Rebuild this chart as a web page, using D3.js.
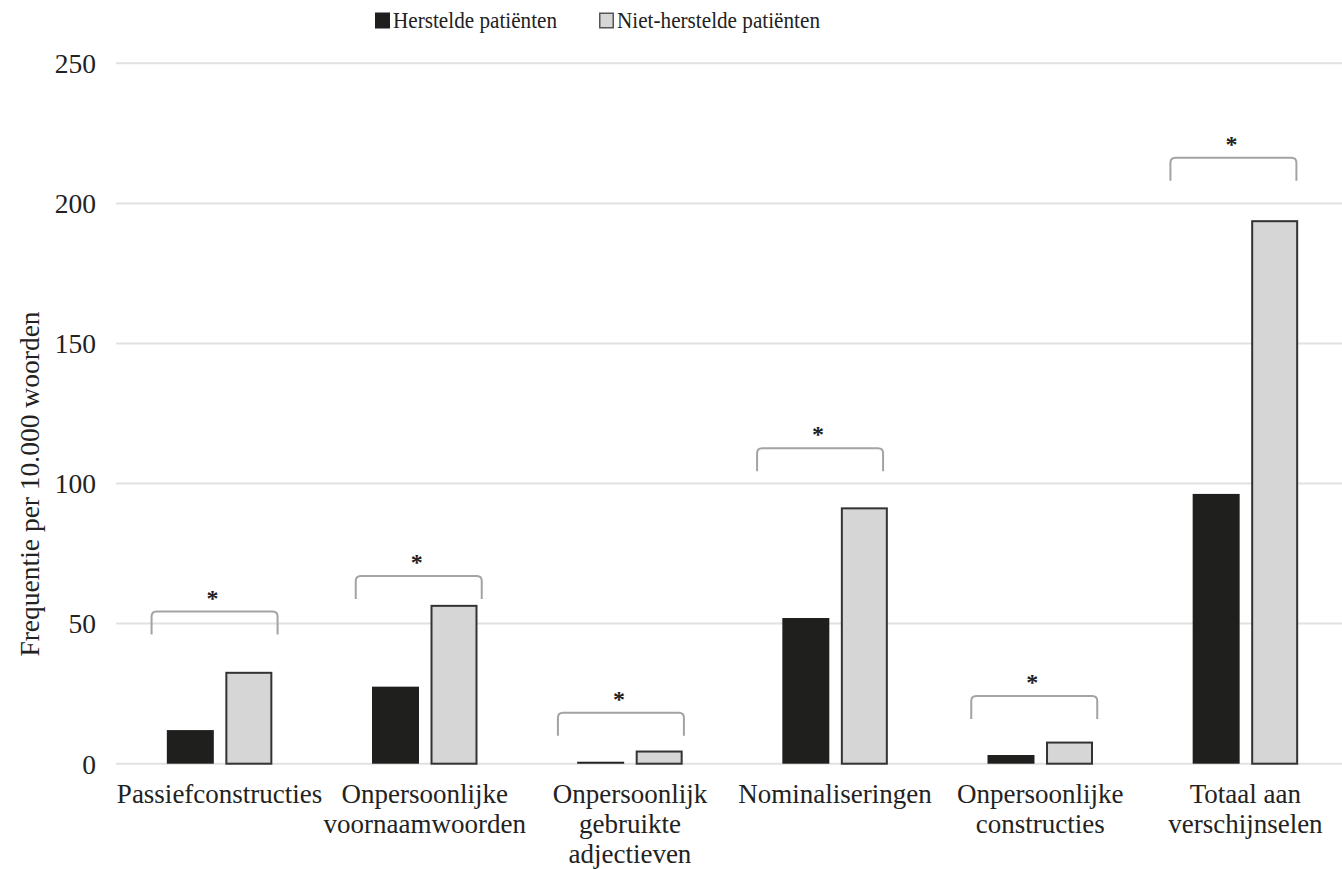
<!DOCTYPE html>
<html>
<head>
<meta charset="utf-8">
<script src="https://cdn.jsdelivr.net/npm/d3@7"></script>
<style>
  html, body { margin: 0; padding: 0; background: #fff; }
  svg { display: block; }
  svg text { font-family: "Liberation Serif", Tinos, "Times New Roman", Times, "DejaVu Serif", serif !important; fill: #222; }
</style>
</head>
<body>
<svg id="chart" width="1342" height="869"></svg>
<script>
// ---- data ----
const categories = [
  "Passiefconstructies",
  "Onpersoonlijke voornaamwoorden",
  "Onpersoonlijk gebruikte adjectieven",
  "Nominaliseringen",
  "Onpersoonlijke constructies",
  "Totaal aan verschijnselen"
];
const categoryLines = [
  ["Passiefconstructies"],
  ["Onpersoonlijke", "voornaamwoorden"],
  ["Onpersoonlijk", "gebruikte", "adjectieven"],
  ["Nominaliseringen"],
  ["Onpersoonlijke", "constructies"],
  ["Totaal aan", "verschijnselen"]
];
const seriesNames = ["Herstelde patiënten", "Niet-herstelde patiënten"];
const recovered    = [12, 27.5, 0.7, 52, 3.1, 96.3];
const nonRecovered = [32.8, 56.7, 4.7, 91.5, 7.9, 194];
const significant  = ["*", "*", "*", "*", "*", "*"];
const bracketLevel = [54.3, 67, 18.2, 112.6, 24.2, 216.3];   // bracket top, in data units
const yTicks = [0, 50, 100, 150, 200, 250];
const yTitle = "Frequentie per 10.000 woorden";

// annotation layout (pixel shift of each bracket from its group centre)
const bracketShift = [-5, -6, -9, -15, -6, -12];

// ---- layout ----
const FONT = '"Liberation Serif", Tinos, "Times New Roman", Times, "DejaVu Serif", serif';
const svg = d3.select("#chart");
const x = d3.scaleBand().domain(categories).range([117, 1348]).padding(0);
const xs = d3.scaleBand().domain(seriesNames)
  .range([x.bandwidth() / 2 - 52.75, x.bandwidth() / 2 + 52.75]).paddingInner(0.197).paddingOuter(0);
const y = d3.scaleLinear().domain([0, 250]).range([763.7, 63.3]);

const fills = ["#1f1f1d", "#d6d6d6"];
const strokes = ["#1f1f1d", "#333333"];

// gridlines
svg.append("g").selectAll("line").data(yTicks).join("line")
  .attr("x1", 116).attr("x2", 1342)
  .attr("y1", d => y(d)).attr("y2", d => y(d))
  .attr("stroke", "#e1e1e1").attr("stroke-width", 2);

// y axis labels
const yAxis = svg.append("g").attr("transform", "translate(96,0)")
  .call(d3.axisLeft(y).tickValues(yTicks).tickSize(0).tickPadding(0));
yAxis.attr("font-family", FONT).attr("font-size", 27);
yAxis.select(".domain").remove();
yAxis.selectAll("text")
  .style("font-family", FONT)
  .style("font-size", "27.5px").attr("fill", "#222").attr("dy", "0.34em");

// y title
svg.append("text")
  .attr("transform", "translate(39,484) rotate(-90)")
  .attr("text-anchor", "middle")
  .style("font-family", FONT)
  .style("font-size", "27.5px")
  .text(yTitle);

// bars
const rows = categories.map((c, i) => ({ c, i, vals: [recovered[i], nonRecovered[i]] }));
const groups = svg.append("g").selectAll("g").data(rows).join("g")
  .attr("transform", d => `translate(${x(d.c)},0)`);

groups.selectAll("rect").data(d => d.vals.map((v, k) => ({ v, k })))
  .join("rect")
  .attr("x", d => xs(seriesNames[d.k]) + (d.k === 1 ? 1 : 0))
  .attr("width", d => xs.bandwidth() - (d.k === 1 ? 2 : 0))
  .attr("y", d => y(d.v) + (d.k === 1 ? 1 : 0))
  .attr("height", d => Math.max(0, y(0) - y(d.v) - (d.k === 1 ? 1 : 0)))
  .attr("fill", d => fills[d.k])
  .attr("stroke", d => d.k === 1 ? strokes[1] : "none")
  .attr("stroke-width", 2);

// significance brackets
const halfW = 63, leg = 23, r = 5;
groups.append("path")
  .attr("d", d => {
    const cx = x.bandwidth() / 2 + bracketShift[d.i];
    const x1 = cx - halfW, x2 = cx + halfW;
    const yt = y(bracketLevel[d.i]), yb = yt + leg;
    return `M${x1},${yb} L${x1},${yt + r} Q${x1},${yt} ${x1 + r},${yt} L${x2 - r},${yt} Q${x2},${yt} ${x2},${yt + r} L${x2},${yb}`;
  })
  .attr("fill", "none").attr("stroke", "#a3a3a3").attr("stroke-width", 2);

groups.append("text")
  .attr("x", d => x.bandwidth() / 2 + bracketShift[d.i] - 2)
  .attr("y", d => y(bracketLevel[d.i]) - 19 + 13)
  .attr("text-anchor", "middle")
  .style("font-family", FONT)
  .style("font-size", "24px").style("font-weight", "bold")
  .text(d => significant[d.i]);

// category labels
groups.append("text")
  .attr("text-anchor", "middle")
  .style("font-family", FONT)
  .style("font-size", "27px")
  .selectAll("tspan").data(d => categoryLines[d.i]).join("tspan")
  .attr("x", x.bandwidth() / 2)
  .attr("y", (d, j) => 803 + j * 30)
  .text(d => d);

// legend
const legendX = [375, 599];
const legendTextLen = [164, 203];
const legend = svg.append("g").selectAll("g").data(seriesNames).join("g")
  .attr("transform", (d, k) => `translate(${legendX[k]},0)`);
legend.append("rect")
  .attr("x", (d, k) => k === 1 ? 0.75 : 0).attr("y", (d, k) => k === 1 ? 13.25 : 12.5)
  .attr("width", (d, k) => k === 1 ? 13.5 : 15).attr("height", (d, k) => k === 1 ? 14.5 : 16)
  .attr("fill", (d, k) => fills[k])
  .attr("stroke", (d, k) => k === 1 ? "#555" : "none").attr("stroke-width", 1.5);
legend.append("text")
  .attr("x", 18).attr("y", 28)
  .attr("textLength", (d, k) => legendTextLen[k])
  .attr("lengthAdjust", "spacingAndGlyphs")
  .style("font-family", FONT)
  .style("font-size", "24px")
  .text(d => d);
</script>
</body>
</html>
